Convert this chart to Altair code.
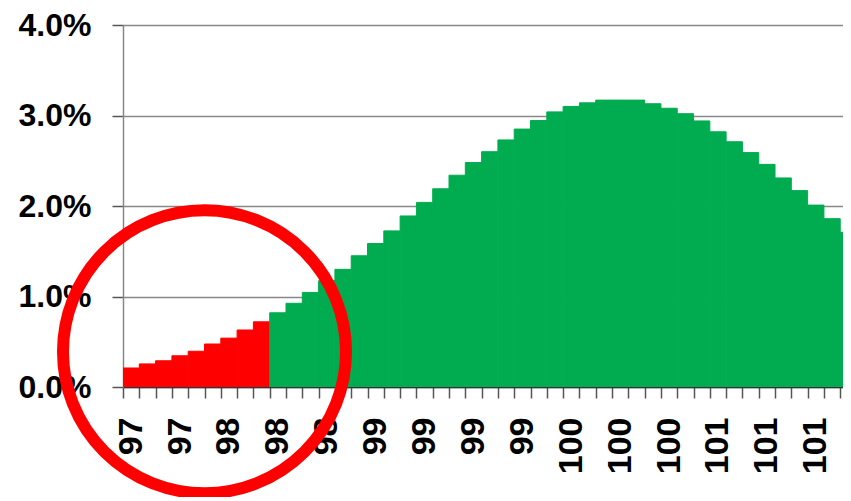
import json
import altair as alt
import pandas as pd

# bar heights in percent, one per price bucket (left to right)
values = [0.21, 0.255, 0.29, 0.345, 0.395, 0.475, 0.54, 0.63, 0.72,
          0.82, 0.925, 1.045, 1.175, 1.30, 1.45, 1.585, 1.725, 1.89, 2.04,
          2.19, 2.34, 2.48, 2.60, 2.73, 2.85, 2.945, 3.04, 3.10, 3.14,
          3.17, 3.17, 3.17, 3.13, 3.08, 3.02, 2.94, 2.82, 2.71, 2.59,
          2.46, 2.31, 2.17, 2.01, 1.86, 1.71]
# x tick labels, shown on every third bucket
tick_labels = ["97", "97", "98", "98", "98", "99", "99", "99", "99",
               "100", "100", "100", "101", "101", "101"]
red_count = 9          # first buckets drawn in red
visible_buckets = 44.17  # the last bucket is cut at the right edge
circle_center = [5.0, 0.39]  # annotation circle (bucket, percent)

n = len(values)
df = pd.DataFrame({
    "i": list(range(n)),
    "i2": [k + 1 for k in range(n)],
    "v": [x / 100 for x in values],
    "zone": ["red" if k < red_count else "green" for k in range(n)],
})
circ = pd.DataFrame({"i": [circle_center[0]], "v": [circle_center[1] / 100]})

xs = alt.Scale(domain=[0, visible_buckets], nice=False, zero=False)
ys = alt.Scale(domain=[0, 0.04], nice=False)
cs = alt.Scale(domain=["red", "green"], range=["#FF0000", "#00AC4F"])

label_expr = ("datum.value % 3 == 0 ? " + json.dumps(tick_labels) +
              "[datum.value / 3] : ''")

x_axis = alt.Axis(values=list(range(n)), labelExpr=label_expr, title=None,
                  labelAngle=270, labelOffset=8.15, labelPadding=19,
                  labelFontSize=34, labelOverlap=False, labelFlush=False,
                  tickSize=11, tickColor="#555555", tickWidth=1.5,
                  domainColor="#333333", domainWidth=1.5, grid=False)
y_axis = alt.Axis(values=[0, 0.01, 0.02, 0.03, 0.04], format=".1%", title=None,
                  labelFontSize=32, labelPadding=21, tickSize=11,
                  tickColor="#555555", tickWidth=1.5,
                  domainColor="#888888", domainWidth=1.5,
                  grid=True, gridColor="#888888", gridWidth=1.5)

bars = alt.Chart(df).mark_bar(clip=True, strokeWidth=1).encode(
    x=alt.X("i:Q", scale=xs, axis=x_axis),
    x2="i2:Q",
    y=alt.Y("v:Q", scale=ys, axis=y_axis),
    y2=alt.datum(0),
    color=alt.Color("zone:N", scale=cs, legend=None),
    stroke=alt.Stroke("zone:N", scale=cs, legend=None),
)

ring = alt.Chart(circ).mark_point(shape="circle", filled=False, size=80100,
                                  strokeWidth=12, color="#FF0000", opacity=1).encode(
    x=alt.X("i:Q", scale=xs, axis=x_axis),
    y=alt.Y("v:Q", scale=ys, axis=y_axis),
)

chart = alt.layer(bars, ring).properties(
    width=720, height=362,
    autosize=alt.AutoSizeParams(type="none"),
    padding={"left": 115, "top": 17, "right": 0, "bottom": 110},
).configure_axis(
    labelFont="Liberation Sans", labelFontWeight="bold", labelColor="#000000",
).configure_view(stroke=None)

chart.save("out.html", embed_options={"renderer": "svg", "actions": False})
